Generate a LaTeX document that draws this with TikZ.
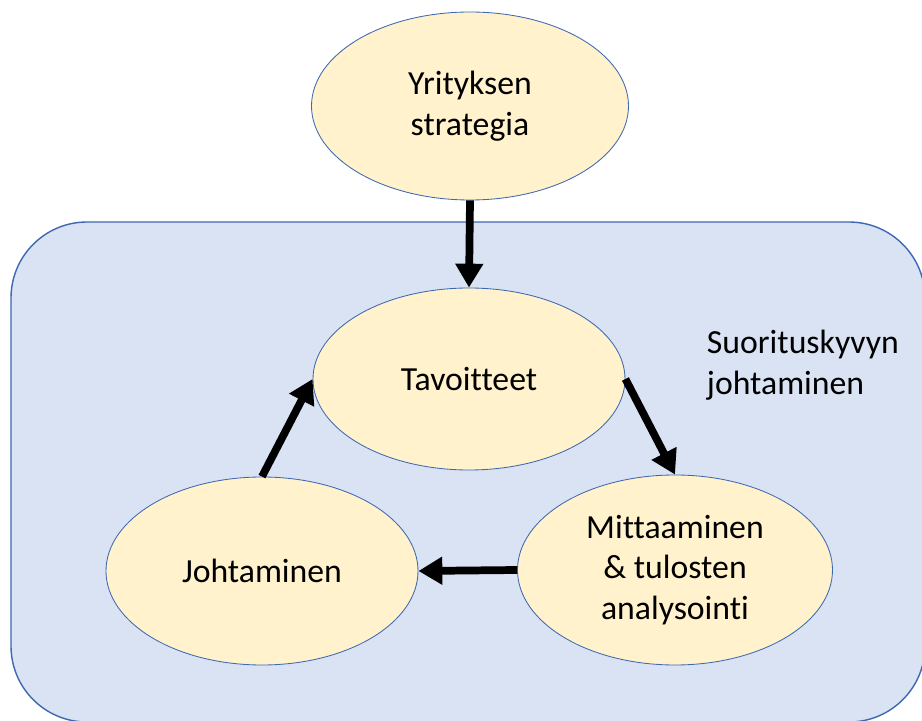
\documentclass[tikz,border=0pt]{standalone}
\usepackage{fontspec}
\setmainfont[Ligatures = NoCommon]{Carlito}
\usepackage{tikz}
\usetikzlibrary{shapes,arrows.meta}
\definecolor{boxblue}{HTML}{DAE3F3}
\definecolor{edgeblue}{HTML}{3E68B0}
\definecolor{ovalgold}{HTML}{FFF2CC}
\begin{document}
\begin{tikzpicture}[oval/.style = {ellipse, draw = edgeblue, line width = .6pt, fill = ovalgold, inner sep = 0pt, align = center, font = \fontsize{24}{29}\selectfont},
	flow/.style = {line width = 5.5pt, -{Triangle[length = 17pt, width = 19pt]}}]
	\useasboundingbox (0,0) rectangle (23.05,18);
	\begin{scope}
	\clip (0,0) rectangle (23.05,18);
	\draw[draw = edgeblue, line width = 1pt, fill = boxblue, rounded corners = 1.9cm] (.275,-.05) rectangle (23.125,12.45);
	\end{scope}
	\node[oval, minimum width = 7.925cm, minimum height = 4.7cm] (strat) at (11.75,15.35) {Yrityksen\\strategia};
	\node[oval, minimum width = 7.8cm, minimum height = 4.55cm] (tav) at (11.725,8.525) {Tavoitteet};
	\node[oval, minimum width = 7.8cm, minimum height = 4.7cm] (joht) at (6.55,3.725) {Johtaminen};
	\node[oval, minimum width = 7.875cm, minimum height = 4.75cm] (mitt) at (16.875,3.75) {Mittaaminen\\\&~tulosten\\analysointi};
	\node[anchor = west, align = left, font = \fontsize{24}{29}\selectfont] (suor) at (17.55,8.875) {Suorituskyvyn\\johtaminen};
	\draw[flow] (strat.south) -- (tav.north);
	\draw[flow] (tav.east) -- (mitt.north);
	\draw[flow] (mitt.west) -- (joht.east);
	\draw[flow] (joht.north) -- (tav.west);
\end{tikzpicture}
\end{document}
